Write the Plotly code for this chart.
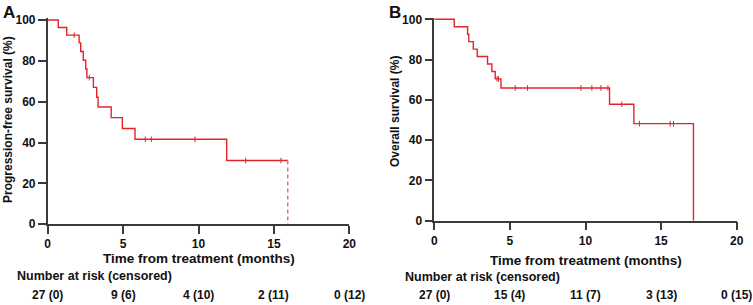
import plotly.graph_objects as go

W, H = 753, 305

# ---- Panel A: progression-free survival ----
pfs_t = [0, 0.70, 1.26, 2.08, 2.19, 2.36, 2.52, 2.60, 3.03, 3.25, 3.34, 4.21, 4.95, 5.79, 11.87, 15.92]
pfs_s = [100, 96.3, 92.6, 88.8, 84.6, 80.3, 76.0, 71.8, 67.0, 62.2, 57.4, 52.2, 46.9, 41.6, 31.2, 31.2]
pfs_cens_t = [1.76, 2.76, 6.47, 6.87, 9.77, 13.13, 15.47]
pfs_cens_s = [92.6, 71.8, 41.6, 41.6, 41.6, 31.2, 31.2]
pfs_last_t = [15.92, 15.92]
pfs_last_s = [31.2, 0]

# ---- Panel B: overall survival ----
os_t = [0, 1.32, 2.20, 2.28, 2.58, 2.84, 3.52, 3.81, 4.03, 4.41, 11.59, 13.20, 17.14, 17.14]
os_s = [100, 96.3, 92.6, 88.9, 85.2, 81.5, 77.8, 74.1, 70.4, 65.9, 57.8, 48.2, 48.2, 0]
os_cens_t = [4.15, 4.25, 5.35, 6.17, 9.70, 10.42, 11.02, 11.48, 12.40, 13.57, 15.60, 15.82]
os_cens_s = [70.4, 70.4, 65.9, 65.9, 65.9, 65.9, 65.9, 65.9, 57.8, 48.2, 48.2, 48.2]

x_ticks = [0, 5, 10, 15, 20]
y_ticks = [0, 20, 40, 60, 80, 100]
risk_a = ["27 (0)", "9 (6)", "4 (10)", "2 (11)", "0 (12)"]
risk_b = ["27 (0)", "15 (4)", "11 (7)", "3 (13)", "0 (15)"]

RED = "#e3242b"
AX = "#3a3a3a"
FONT = "Liberation Sans, Arial, sans-serif"

def px_x(p):
    return p / W

def px_y(p):
    return 1 - p / H

YMAX = 100.8

def ydomain(y0px, y100px):
    top = y0px - (y0px - y100px) * YMAX / 100
    return [px_y(y0px), px_y(top)]

fig = go.Figure()

fig.add_trace(go.Scatter(x=pfs_t, y=pfs_s, mode="lines", line=dict(color=RED, width=1.4, shape="hv"),
                         xaxis="x", yaxis="y", showlegend=False))
fig.add_trace(go.Scatter(x=pfs_last_t, y=pfs_last_s, mode="lines",
                         line=dict(color="#e06a6a", width=1.4, dash="4px,3px"),
                         xaxis="x", yaxis="y", showlegend=False))
fig.add_trace(go.Scatter(x=pfs_cens_t, y=pfs_cens_s, mode="markers",
                         marker=dict(symbol="line-ns", size=4, line=dict(color=RED, width=1)),
                         xaxis="x", yaxis="y", showlegend=False))

fig.add_trace(go.Scatter(x=os_t, y=os_s, mode="lines", line=dict(color=RED, width=1.4, shape="hv"),
                         xaxis="x2", yaxis="y2", showlegend=False))
fig.add_trace(go.Scatter(x=os_cens_t, y=os_cens_s, mode="markers",
                         marker=dict(symbol="line-ns", size=4, line=dict(color=RED, width=1)),
                         xaxis="x2", yaxis="y2", showlegend=False))

axis_common = dict(showgrid=False, zeroline=False, showline=True, linecolor=AX, linewidth=1.5,
                   ticks="outside", ticklen=8, tickwidth=1.5, tickcolor=AX, automargin=False,
                   tickfont=dict(family=FONT, size=12, color="#111", weight="bold"))

fig.update_layout(
    width=W, height=H,
    margin=dict(l=0, r=0, t=0, b=0, autoexpand=False),
    paper_bgcolor="white", plot_bgcolor="white",
    xaxis=dict(domain=[px_x(47.7), px_x(349.3)], range=[0, 20], tickvals=x_ticks, anchor="y", **axis_common),
    yaxis=dict(domain=ydomain(224.3, 20.0), range=[0, YMAX], tickvals=y_ticks, anchor="x", **axis_common),
    xaxis2=dict(domain=[px_x(434.3), px_x(736.7)], range=[0, 20], tickvals=x_ticks, anchor="y2", **axis_common),
    yaxis2=dict(domain=ydomain(220.7, 19.3), range=[0, YMAX], tickvals=y_ticks, anchor="x2", **axis_common),
)

ann = []
tf = dict(family=FONT, size=12, color="#111", weight="bold")
xt = dict(family=FONT, size=13.5, color="#111", weight="bold")
nr = dict(family=FONT, size=12.5, color="#111", weight="bold")
ann.append(dict(text="A", x=px_x(1), y=px_y(1), xref="paper", yref="paper", xanchor="left", yanchor="top",
                showarrow=False, font=dict(family=FONT, size=17, color="#111", weight="bold")))
ann.append(dict(text="B", x=px_x(387), y=px_y(1), xref="paper", yref="paper", xanchor="left", yanchor="top",
                showarrow=False, font=dict(family=FONT, size=17, color="#111", weight="bold")))
ann.append(dict(text="Time from treatment (months)", x=10, xref="x", y=px_y(258), yref="paper",
                xanchor="center", yanchor="middle", showarrow=False, font=xt))
ann.append(dict(text="Time from treatment (months)", x=10, xref="x2", y=px_y(260), yref="paper",
                xanchor="center", yanchor="middle", showarrow=False, font=xt))
ann.append(dict(text="Progression-free survival (%)", x=px_x(8), xref="paper", y=px_y(120), yref="paper",
                xanchor="center", yanchor="middle", textangle=-90, showarrow=False, font=tf))
ann.append(dict(text="Overall survival (%)", x=px_x(395), xref="paper", y=px_y(112), yref="paper",
                xanchor="center", yanchor="middle", textangle=-90, showarrow=False, font=tf))
ann.append(dict(text="Number at risk (censored)", x=px_x(15), y=px_y(276), xref="paper", yref="paper",
                xanchor="left", yanchor="middle", showarrow=False, font=nr))
ann.append(dict(text="Number at risk (censored)", x=px_x(403), y=px_y(276.5), xref="paper", yref="paper",
                xanchor="left", yanchor="middle", showarrow=False, font=nr))
for xv, lab in zip(x_ticks, risk_a):
    ann.append(dict(text=lab, x=xv, xref="x", y=px_y(295), yref="paper", xanchor="center", yanchor="middle",
                    showarrow=False, font=tf))
for xv, lab in zip(x_ticks, risk_b):
    ann.append(dict(text=lab, x=xv, xref="x2", y=px_y(295), yref="paper", xanchor="center", yanchor="middle",
                    showarrow=False, font=tf))
fig.update_layout(annotations=ann)

fig.write_html("out.html", config={"displayModeBar": False},
               post_script="document.body.style.margin='0';document.body.style.overflow='hidden';")
